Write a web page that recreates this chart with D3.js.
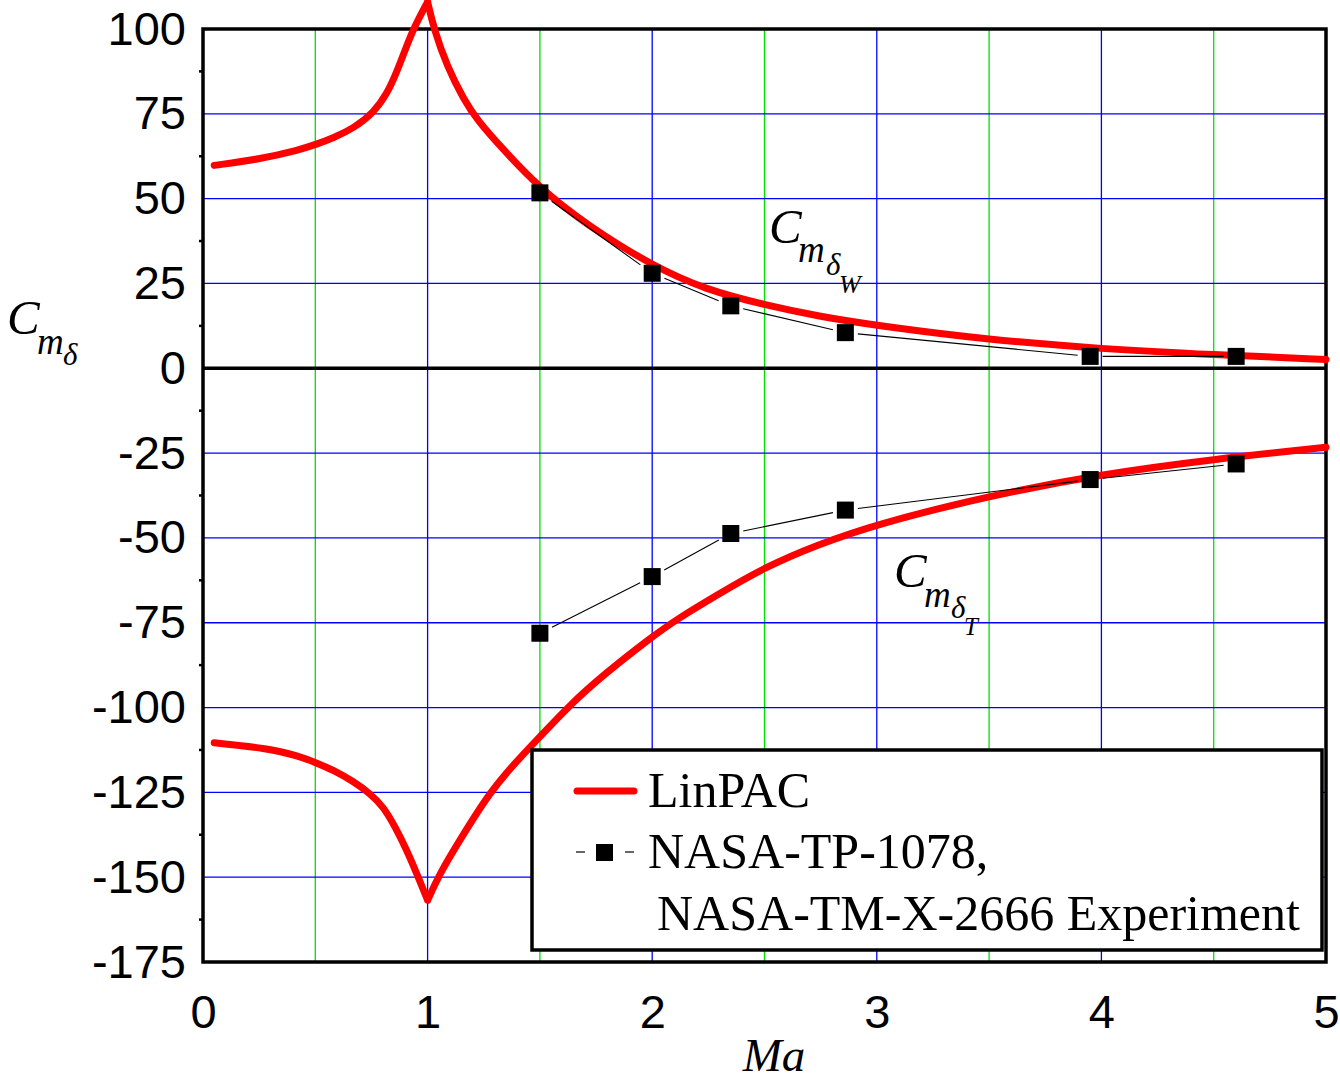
<!DOCTYPE html>
<html>
<head>
<meta charset="utf-8">
<script src="https://cdn.jsdelivr.net/npm/d3@7"></script>
<style>
  html, body { margin: 0; padding: 0; background: #fff; }
  svg { display: block; }
</style>
</head>
<body>
<svg id="chart" width="1340" height="1080"></svg>
<script>
// LinPAC prediction, wing-control derivative (upper branch)
const linpacWingMa  = [0.05, 0.25, 0.43, 0.5, 0.58, 0.67, 0.76, 0.82, 0.86, 0.9, 0.936, 1.0, 1.028, 1.087, 1.162, 1.221, 1.325, 1.5, 1.71, 2.0, 2.24, 2.5, 2.75, 3.0, 3.5, 4.0, 4.5, 5.0];
const linpacWingCm  = [59.8, 61.6, 64.4, 65.9, 67.9, 70.7, 75.3, 81.0, 86.9, 93.8, 100.0, 108.0, 100.0, 88.9, 79.1, 73.2, 65.3, 53.0, 42.2, 30.2, 23.1, 18.7, 15.2, 12.6, 8.4, 5.7, 4.0, 2.6];

// LinPAC prediction, tail-control derivative (lower branch)
const linpacTailMa  = [0.05, 0.28, 0.43, 0.5, 0.58, 0.67, 0.743, 0.803, 0.855, 0.907, 0.951, 1.0, 1.055, 1.144, 1.278, 1.397, 1.5, 1.634, 1.782, 2.0, 2.109, 2.302, 2.5, 2.732, 3.0, 3.5, 4.0, 4.5, 5.0];
const linpacTailCm  = [-110.4, -111.9, -114.3, -116.2, -118.4, -121.8, -125.3, -129.2, -135.1, -142.0, -148.8, -156.8, -148.8, -139.0, -124.8, -115.8, -108.6, -99.2, -90.4, -79.1, -74.0, -66.3, -58.7, -52.1, -45.9, -37.6, -31.2, -26.8, -23.3];

// Wind-tunnel data (NASA-TP-1078, NASA-TM-X-2666)
const expMa         = [1.5, 2.0, 2.35, 2.86, 3.95, 4.6];
const expWingCm     = [51.7, 28.0, 18.4, 10.5, 3.5, 3.5];
const expTailCm     = [-78.1, -61.4, -48.7, -41.8, -32.8, -28.2];

// Axis ticks and grid positions
const xTicks        = [0, 1, 2, 3, 4, 5];
const xGridMajor    = [1, 2, 3, 4];
const xGridMinor    = [0.5, 1.5, 2.5, 3.5, 4.5];
const yTicks        = [100, 75, 50, 25, 0, -25, -50, -75, -100, -125, -150, -175];
const yGrid         = [75, 50, 25, -25, -50, -75, -100, -125, -150];
const yMinorTicks   = [87.5, 62.5, 37.5, 12.5, -12.5, -37.5, -62.5, -87.5, -112.5, -137.5, -162.5];

const legendLabels  = ["LinPAC", "NASA-TP-1078,", "NASA-TM-X-2666 Experiment"];

const svg = d3.select("#chart");
const x = d3.scaleLinear().domain([0, 5]).range([203, 1326]);
const y = d3.scaleLinear().domain([-175, 100]).range([962, 29]);

const SANS = "'Liberation Sans', Arial, sans-serif";
const SERIF = "'Liberation Serif', 'Times New Roman', serif";

// grid
const grid = svg.append("g");
grid.selectAll(".gxm").data(xGridMinor).join("line")
  .attr("x1", d => x(d)).attr("x2", d => x(d))
  .attr("y1", y(100)).attr("y2", y(-175))
  .attr("stroke", "#00e000").attr("stroke-width", 1.3);
grid.selectAll(".gxM").data(xGridMajor).join("line")
  .attr("x1", d => x(d)).attr("x2", d => x(d))
  .attr("y1", y(100)).attr("y2", y(-175))
  .attr("stroke", "#0000ff").attr("stroke-width", 1.3);
grid.selectAll(".gy").data(yGrid).join("line")
  .attr("x1", x(0)).attr("x2", x(5))
  .attr("y1", d => y(d)).attr("y2", d => y(d))
  .attr("stroke", "#0000ff").attr("stroke-width", 1.3);

// frame and zero line
svg.append("rect")
  .attr("x", x(0)).attr("y", y(100))
  .attr("width", x(5) - x(0)).attr("height", y(-175) - y(100))
  .attr("fill", "none").attr("stroke", "#000").attr("stroke-width", 3.5);
svg.append("line")
  .attr("x1", x(0)).attr("x2", x(5))
  .attr("y1", y(0)).attr("y2", y(0))
  .attr("stroke", "#000").attr("stroke-width", 3.5);
svg.selectAll(".ymt").data(yMinorTicks).join("line")
  .attr("x1", x(0) - 4).attr("x2", x(0))
  .attr("y1", d => y(d)).attr("y2", d => y(d))
  .attr("stroke", "#000").attr("stroke-width", 2.5);

// axes (plain hyphen-minus for negative labels)
const yAxis = svg.append("g")
  .attr("transform", `translate(${x(0)},0)`)
  .call(d3.axisLeft(y).tickValues(yTicks).tickSize(0).tickPadding(17).tickFormat(d => String(d)));
const xAxis = svg.append("g")
  .attr("transform", `translate(0,${y(-175)})`)
  .call(d3.axisBottom(x).tickValues(xTicks).tickSize(0).tickPadding(33).tickFormat(d => String(d)));
[yAxis, xAxis].forEach(g => {
  g.select(".domain").remove();
  g.selectAll("text").attr("font-family", SANS).attr("font-size", 47).attr("fill", "#000");
});

// LinPAC curves: smooth each side of the Ma = 1 cusp separately
const curve = d3.line().x(d => x(d[0])).y(d => y(d[1])).curve(d3.curveBasis);
[[linpacWingMa, linpacWingCm], [linpacTailMa, linpacTailCm]].forEach(([ma, cm]) => {
  const pts = ma.map((m, i) => [m, cm[i]]);
  const k = ma.indexOf(1.0);
  const d = curve(pts.slice(0, k + 1)) + curve(pts.slice(k));
  svg.append("path")
    .attr("d", d)
    .attr("fill", "none").attr("stroke", "#ff0000")
    .attr("stroke-width", 7).attr("stroke-linecap", "round").attr("stroke-linejoin", "round");
});

// experiment: thin connectors that stop short of each marker, then markers
const HALF = 8.5, GAP = 4;
function connectors(cm) {
  const pts = expMa.map((m, i) => [x(m), y(cm[i])]);
  const segs = [];
  for (let i = 0; i < pts.length - 1; i++) {
    const [x1, y1] = pts[i], [x2, y2] = pts[i + 1];
    const dx = x2 - x1, dy = y2 - y1, L = Math.hypot(dx, dy);
    const ux = dx / L, uy = dy / L;
    const r = HALF / Math.max(Math.abs(ux), Math.abs(uy)) + GAP;
    segs.push([x1 + ux * r, y1 + uy * r, x2 - ux * r, y2 - uy * r]);
  }
  return segs;
}
[expWingCm, expTailCm].forEach(cm => {
  svg.append("g").selectAll("line").data(connectors(cm)).join("line")
    .attr("x1", d => d[0]).attr("y1", d => d[1]).attr("x2", d => d[2]).attr("y2", d => d[3])
    .attr("stroke", "#000").attr("stroke-width", 1.1);
  svg.append("g").selectAll("rect").data(expMa.map((m, i) => [m, cm[i]])).join("rect")
    .attr("x", d => x(d[0]) - HALF).attr("y", d => y(d[1]) - HALF)
    .attr("width", 2 * HALF).attr("height", 2 * HALF)
    .attr("fill", "#000");
});

// math labels: C with nested subscripts
function mathLabel(px, py, parts) {
  const t = svg.append("text").attr("font-family", SERIF).attr("font-style", "italic").attr("fill", "#000");
  parts.forEach(p => {
    t.append("tspan").attr("x", px + p.dx).attr("y", py + p.dy).attr("font-size", p.size).text(p.s);
  });
}
// y axis title
mathLabel(7, 334, [
  { s: "C", dx: 0, dy: 0, size: 49 },
  { s: "m", dx: 30, dy: 20, size: 37 },
  { s: "δ", dx: 56, dy: 31, size: 31 }
]);
// wing branch label
mathLabel(x(2.52), y(36.9), [
  { s: "C", dx: 0, dy: 0, size: 49 },
  { s: "m", dx: 29, dy: 19, size: 37 },
  { s: "δ", dx: 57, dy: 32, size: 31 },
  { s: "W", dx: 70, dy: 50, size: 26 }
]);
// tail branch label
mathLabel(x(3.077), y(-64.5), [
  { s: "C", dx: 0, dy: 0, size: 49 },
  { s: "m", dx: 30, dy: 20, size: 37 },
  { s: "δ", dx: 57, dy: 31, size: 31 },
  { s: "T", dx: 70, dy: 48, size: 25 }
]);
// x axis title
svg.append("text")
  .attr("x", 774).attr("y", 1071).attr("text-anchor", "middle")
  .attr("font-family", SERIF).attr("font-style", "italic").attr("font-size", 47)
  .text("Ma");

// legend
const lg = svg.append("g");
lg.append("rect")
  .attr("x", 532).attr("y", 750).attr("width", 790).attr("height", 200)
  .attr("fill", "#fff").attr("stroke", "#000").attr("stroke-width", 3.5);
lg.append("line")
  .attr("x1", 577).attr("x2", 634).attr("y1", 791).attr("y2", 791)
  .attr("stroke", "#ff0000").attr("stroke-width", 7).attr("stroke-linecap", "round");
lg.append("line").attr("x1", 576).attr("x2", 585).attr("y1", 852).attr("y2", 852)
  .attr("stroke", "#000").attr("stroke-width", 1.2);
lg.append("line").attr("x1", 625).attr("x2", 634).attr("y1", 852).attr("y2", 852)
  .attr("stroke", "#000").attr("stroke-width", 1.2);
lg.append("rect").attr("x", 596).attr("y", 844).attr("width", 17).attr("height", 17).attr("fill", "#000");
lg.selectAll("text").data(legendLabels).join("text")
  .attr("x", (d, i) => i === 2 ? 657 : 648)
  .attr("y", (d, i) => [807, 868, 930][i])
  .attr("font-family", SERIF).attr("font-size", 50).attr("fill", "#000")
  .text(d => d);
</script>
</body>
</html>
